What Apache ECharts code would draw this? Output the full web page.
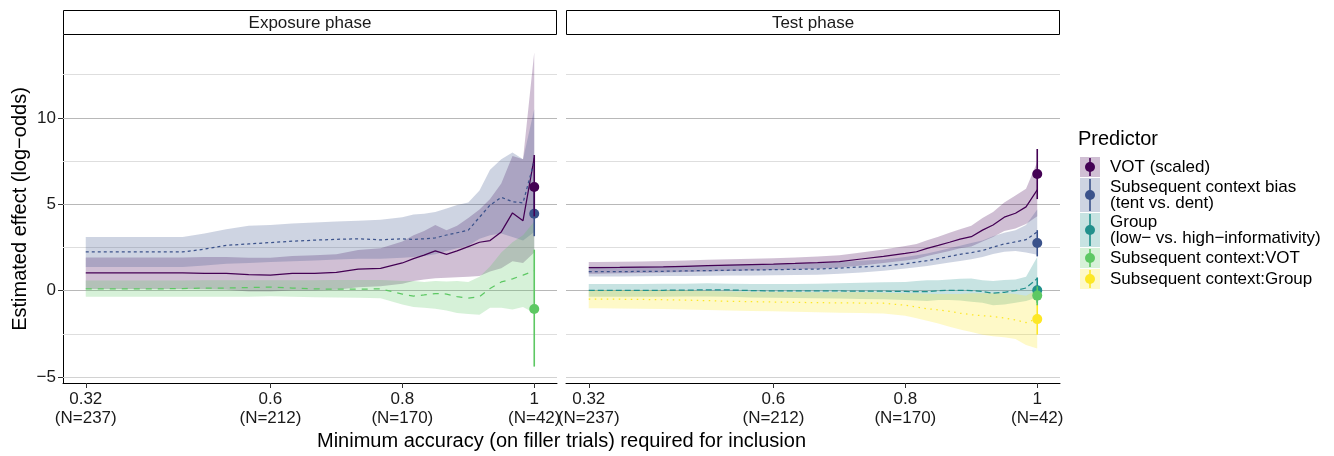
<!DOCTYPE html>
<html>
<head>
<meta charset="utf-8">
<title>Minimum accuracy sensitivity</title>
<script src="https://cdn.jsdelivr.net/npm/echarts@6/dist/echarts.min.js"></script>
<style>
  html, body { margin: 0; padding: 0; background: #fff; }
  #main { width: 1334px; height: 456px; }
</style>
</head>
<body>
<div id="main"></div>
<script>
// accuracy thresholds (x) for every curve
var acc = [0.32, 0.333, 0.367, 0.4, 0.433, 0.467, 0.5, 0.533, 0.567, 0.6, 0.633, 0.667, 0.7, 0.733,
  0.767, 0.8, 0.817, 0.833, 0.85, 0.867, 0.883, 0.9, 0.917, 0.933, 0.95, 0.967, 0.983, 1];

// tick labels
var xTicks = [0.32, 0.6, 0.8, 1];
var xTickLabels = ['0.32', '0.6', '0.8', '1'];
var xTickN = [237, 212, 170, 42];
var yTicks = [-5, 0, 5, 10];
var yMinor = [-2.5, 2.5, 7.5, 12.5];

var panelTitles = ['Exposure phase', 'Test phase'];
var predictors = ['VOT (scaled)', 'Subsequent context bias\n(tent vs. dent)',
  'Group\n(low\u2212 vs. high\u2212informativity)', 'Subsequent context:VOT', 'Subsequent context:Group'];
var colors = ['#440154', '#3B528B', '#21908C', '#5DC863', '#FDE725'];
var dashes = ['solid', [3, 3], [6, 3], [6, 6], [1.5, 4.5]];

// Exposure phase
var expVotEst = [1.03, 1.03, 1.03, 1.03, 1.03, 1.03, 1.0, 1.0, 0.92, 0.9, 1.0, 1.0, 1.05, 1.25, 1.29, 1.6, 1.85, 2.05, 2.3, 2.1, 2.3, 2.55, 2.8, 2.9, 3.4, 4.5, 4.05, 7.7];
var expVotLo = [0.1, 0.1, 0.1, 0.1, 0.1, 0.1, 0.08, 0.05, -0.05, -0.05, 0.0, 0.0, 0.05, 0.2, 0.25, 0.4, 0.55, 0.65, 0.72, 0.75, 0.78, 0.8, 0.85, 1.1, 1.3, 1.7, 1.6, 2.2];
var expVotHi = [1.92, 1.92, 1.92, 1.92, 1.92, 1.92, 1.95, 1.95, 1.9, 1.9, 2.0, 2.05, 2.1, 2.35, 2.45, 2.85, 3.2, 3.45, 3.8, 3.5, 3.75, 4.2, 4.7, 5.3, 6.2, 7.8, 7.6, 13.8];
var expBiasEst = [2.24, 2.24, 2.24, 2.24, 2.24, 2.24, 2.4, 2.62, 2.7, 2.78, 2.86, 2.92, 2.97, 3.0, 2.94, 3.0, 2.96, 3.0, 3.05, 3.22, 3.35, 3.5, 4.25, 4.95, 5.4, 5.15, 5.08, 7.5];
var expBiasLo = [1.36, 1.36, 1.36, 1.36, 1.36, 1.36, 1.45, 1.55, 1.6, 1.65, 1.7, 1.75, 1.8, 1.85, 1.85, 1.9, 1.95, 2.0, 2.1, 2.3, 2.45, 2.6, 3.0, 3.2, 3.3, 3.1, 2.9, 3.4];
var expBiasHi = [3.11, 3.11, 3.11, 3.11, 3.11, 3.11, 3.3, 3.55, 3.75, 3.8, 3.88, 3.95, 4.0, 4.05, 4.1, 4.25, 4.4, 4.45, 4.55, 4.75, 4.95, 5.1, 5.8, 7.0, 7.6, 8.0, 7.6, 10.5];
var expCtxVotEst = [0.1, 0.1, 0.1, 0.1, 0.1, 0.12, 0.15, 0.15, 0.18, 0.2, 0.15, 0.1, 0.08, 0.08, 0.1, -0.2, -0.32, -0.25, -0.17, -0.2, -0.35, -0.44, -0.35, 0.12, 0.5, 0.68, 0.9, 1.14];
var expCtxVotLo = [-0.35, -0.35, -0.35, -0.35, -0.35, -0.35, -0.35, -0.35, -0.35, -0.33, -0.35, -0.38, -0.4, -0.42, -0.45, -0.8, -0.95, -1.0, -1.05, -1.15, -1.3, -1.35, -1.4, -1.0, -1.0, -1.1, -0.95, -1.3];
var expCtxVotHi = [0.58, 0.58, 0.58, 0.58, 0.58, 0.58, 0.6, 0.6, 0.6, 0.6, 0.6, 0.6, 0.62, 0.62, 0.62, 0.55, 0.55, 0.5, 0.55, 0.52, 0.55, 0.5, 0.8, 1.4, 2.2, 2.8, 3.2, 4.0];

// Test phase
var testVotEst = [1.33, 1.33, 1.34, 1.36, 1.38, 1.41, 1.44, 1.47, 1.5, 1.53, 1.57, 1.62, 1.68, 1.83, 1.98, 2.15, 2.25, 2.45, 2.62, 2.8, 2.98, 3.12, 3.5, 3.8, 4.25, 4.48, 4.85, 5.83];
var testVotLo = [0.98, 0.98, 1.0, 1.02, 1.05, 1.08, 1.1, 1.13, 1.16, 1.19, 1.22, 1.26, 1.32, 1.45, 1.6, 1.75, 1.83, 2.0, 2.15, 2.3, 2.45, 2.55, 2.85, 3.1, 3.45, 3.6, 3.85, 4.3];
var testVotHi = [1.66, 1.66, 1.67, 1.69, 1.72, 1.75, 1.78, 1.82, 1.85, 1.88, 1.92, 1.98, 2.05, 2.2, 2.38, 2.58, 2.7, 2.92, 3.12, 3.35, 3.55, 3.75, 4.2, 4.55, 5.1, 5.5, 5.9, 7.45];
var testBiasEst = [1.1, 1.1, 1.1, 1.11, 1.12, 1.14, 1.16, 1.18, 1.2, 1.21, 1.23, 1.25, 1.3, 1.37, 1.42, 1.55, 1.65, 1.73, 1.85, 1.98, 2.1, 2.2, 2.32, 2.52, 2.7, 2.82, 2.95, 3.4];
var testBiasLo = [0.81, 0.81, 0.82, 0.83, 0.84, 0.85, 0.86, 0.87, 0.88, 0.89, 0.9, 0.92, 0.97, 1.05, 1.15, 1.28, 1.35, 1.42, 1.52, 1.63, 1.72, 1.82, 1.95, 2.12, 2.25, 2.3, 2.2, 2.08];
var testBiasHi = [1.38, 1.38, 1.39, 1.4, 1.42, 1.44, 1.46, 1.49, 1.51, 1.53, 1.56, 1.59, 1.65, 1.73, 1.8, 1.95, 2.05, 2.15, 2.3, 2.45, 2.6, 2.75, 2.9, 3.15, 3.35, 3.5, 3.8, 4.7];
var testGroupEst = [0.02, 0.02, 0.02, 0.02, 0.02, 0.03, 0.04, 0.04, 0.0, -0.02, -0.02, -0.02, -0.02, -0.03, -0.03, -0.05, -0.06, -0.06, 0.0, 0.02, 0.02, 0.0, -0.05, -0.15, -0.1, 0.0, 0.15, 0.7];
var testGroupLo = [-0.36, -0.36, -0.36, -0.36, -0.36, -0.34, -0.34, -0.36, -0.4, -0.42, -0.43, -0.45, -0.46, -0.48, -0.5, -0.55, -0.58, -0.6, -0.55, -0.55, -0.58, -0.65, -0.7, -0.85, -0.8, -0.7, -0.6, -0.4];
var testGroupHi = [0.38, 0.38, 0.38, 0.38, 0.39, 0.4, 0.42, 0.4, 0.38, 0.38, 0.38, 0.4, 0.42, 0.45, 0.48, 0.5, 0.55, 0.6, 0.6, 0.65, 0.68, 0.7, 0.6, 0.55, 0.62, 0.64, 0.8, 1.95];
var testCtxGroupEst = [-0.5, -0.5, -0.5, -0.51, -0.53, -0.55, -0.58, -0.62, -0.64, -0.66, -0.68, -0.7, -0.71, -0.72, -0.73, -0.85, -0.95, -1.05, -1.12, -1.2, -1.3, -1.4, -1.45, -1.5, -1.58, -1.7, -1.85, -1.63];
var testCtxGroupLo = [-1.02, -1.02, -1.03, -1.05, -1.07, -1.1, -1.12, -1.15, -1.18, -1.2, -1.22, -1.25, -1.28, -1.3, -1.32, -1.45, -1.6, -1.75, -1.9, -2.1, -2.25, -2.4, -2.55, -2.65, -2.7, -2.8, -3.15, -3.35];
var testCtxGroupHi = [0.04, 0.04, 0.04, 0.03, 0.02, 0.0, -0.02, -0.05, -0.06, -0.07, -0.08, -0.09, -0.1, -0.1, -0.12, -0.15, -0.15, -0.18, -0.2, -0.2, -0.2, -0.15, -0.15, -0.15, -0.15, -0.2, -0.3, 0.05];

// full-data estimates at accuracy 1: [estimate, lower, upper]
var ptX = 1;
var expPtVot = [6.0, 4.3, 7.85];
var expPtBias = [4.45, 3.15, 5.8];
var expPtCtxVot = [-1.07, -4.4, 2.37];
var testPtVot = [6.75, 5.3, 8.2];
var testPtBias = [2.76, 1.98, 3.5];
var testPtGroup = [0.02, -0.7, 0.76];
var testPtCtxVot = [-0.29, -0.85, 0.25];
var testPtCtxGroup = [-1.65, -2.55, -0.75];

var FONT = "'Liberation Sans', Arial, Helvetica, sans-serif";
var X_MIN = 0.2855, X_MAX = 1.0345, Y_MIN = -5.35, Y_MAX = 14.8;
var grids = [{left: 63, width: 494}, {left: 566, width: 494}];
var TOP = 35, HEIGHT = 348;

var panels = [
  {
    curves: [[0, expVotEst, expVotLo, expVotHi], [1, expBiasEst, expBiasLo, expBiasHi],
      [3, expCtxVotEst, expCtxVotLo, expCtxVotHi]],
    points: [[1, expPtBias], [3, expPtCtxVot], [0, expPtVot]]
  },
  {
    curves: [[0, testVotEst, testVotLo, testVotHi], [1, testBiasEst, testBiasLo, testBiasHi],
      [2, testGroupEst, testGroupLo, testGroupHi], [4, testCtxGroupEst, testCtxGroupLo, testCtxGroupHi]],
    points: [[1, testPtBias], [0, testPtVot], [2, testPtGroup], [4, testPtCtxGroup], [3, testPtCtxVot]]
  }
];

function bandSeries(g, k, lo, hi) {
  return {
    type: 'custom', xAxisIndex: g, yAxisIndex: g, z: 2, silent: true, clip: true,
    data: acc.map(function (x, i) { return [x, lo[i], hi[i]]; }),
    encode: {x: 0, y: [1, 2]},
    renderItem: function (params, api) {
      if (params.dataIndex !== 0) return null;
      var up = [], down = [];
      for (var i = 0; i < acc.length; i++) {
        up.push(api.coord([acc[i], hi[i]]));
        down.unshift(api.coord([acc[i], lo[i]]));
      }
      return {type: 'polygon', shape: {points: up.concat(down)},
        style: {fill: colors[k], opacity: 0.25}};
    }
  };
}

function lineSeries(g, k, est) {
  return {
    type: 'line', xAxisIndex: g, yAxisIndex: g, z: 3, silent: true,
    data: acc.map(function (x, i) { return [x, est[i]]; }),
    symbol: 'none',
    lineStyle: {color: colors[k], width: 1.25, type: dashes[k]}
  };
}

function pointSeries(g, k, pt) {
  return {
    type: 'custom', xAxisIndex: g, yAxisIndex: g, z: 4, silent: true,
    data: [[ptX, pt[0], pt[1], pt[2]]],
    encode: {x: 0, y: [1, 2, 3]},
    renderItem: function (params, api) {
      var mid = api.coord([api.value(0), api.value(1)]);
      var bot = api.coord([api.value(0), api.value(2)]);
      var top = api.coord([api.value(0), api.value(3)]);
      return {type: 'group', children: [
        {type: 'line', shape: {x1: top[0], y1: top[1], x2: bot[0], y2: bot[1]},
          style: {stroke: colors[k], lineWidth: 1.6}},
        {type: 'circle', shape: {cx: mid[0], cy: mid[1], r: 5}, style: {fill: colors[k]}}
      ]};
    }
  };
}

function gridLineSeries(g) {
  var lines = yTicks.map(function (v) {
    // the lowest major line is drawn lighter in the source
    return {yAxis: v, lineStyle: {color: v === yTicks[0] ? '#d2d2d2' : '#b8b8b8', width: 1.2, type: 'solid'}};
  }).concat(yMinor.map(function (v) {
    return {yAxis: v, lineStyle: {color: '#dedede', width: 1, type: 'solid'}};
  }));
  return {
    type: 'line', xAxisIndex: g, yAxisIndex: g, z: 1, silent: true, data: [],
    markLine: {silent: true, symbol: 'none', animation: false, label: {show: false}, z: 1, data: lines}
  };
}

var series = [];
panels.forEach(function (p, g) {
  series.push(gridLineSeries(g));
  p.curves.forEach(function (c) { series.push(bandSeries(g, c[0], c[2], c[3])); });
  p.curves.forEach(function (c) { series.push(lineSeries(g, c[0], c[1])); });
  p.points.forEach(function (c) { series.push(pointSeries(g, c[0], c[1])); });
});

var xAxes = grids.map(function (gr, g) {
  return {
    type: 'value', gridIndex: g, min: X_MIN, max: X_MAX,
    axisLine: {show: true, onZero: false, lineStyle: {color: '#000', width: 1}},
    axisTick: {show: true, customValues: xTicks, length: 5, lineStyle: {color: '#333'}},
    axisLabel: {
      customValues: xTicks, margin: 7, fontSize: 17, lineHeight: 19, color: '#1a1a1a', fontFamily: FONT,
      formatter: function (v) {
        for (var i = 0; i < xTicks.length; i++) {
          if (Math.abs(xTicks[i] - v) < 1e-6) return xTickLabels[i] + '\n(N=' + xTickN[i] + ')';
        }
        return '';
      }
    },
    splitLine: {show: false}
  };
});

var yAxes = [
  {
    type: 'value', gridIndex: 0, min: Y_MIN, max: Y_MAX,
    name: 'Estimated effect (log\u2212odds)', nameLocation: 'middle', nameGap: 33,
    nameTextStyle: {fontSize: 20, color: '#000', fontFamily: FONT},
    axisLine: {show: true, onZero: false, lineStyle: {color: '#000', width: 1}},
    axisTick: {show: true, customValues: yTicks, length: 5, lineStyle: {color: '#333'}},
    axisLabel: {
      customValues: yTicks, margin: 7, fontSize: 17, color: '#1a1a1a', fontFamily: FONT,
      formatter: function (v) { return String(v).replace('-', '\u2212'); }
    },
    splitLine: {show: false}
  },
  {type: 'value', gridIndex: 1, min: Y_MIN, max: Y_MAX, show: false, splitLine: {show: false}}
];

// strips, axis title and legend
var graphics = [];
grids.forEach(function (gr, g) {
  graphics.push({type: 'rect', shape: {x: gr.left + 0.5, y: 10.5, width: gr.width - 1, height: 24},
    style: {fill: '#fff', stroke: '#000', lineWidth: 1}, z: 10});
  graphics.push({type: 'text', x: gr.left + gr.width / 2, y: 23, z: 11,
    style: {text: panelTitles[g], fontSize: 17, fontFamily: FONT, fill: '#1a1a1a',
      align: 'center', verticalAlign: 'middle'}});
});
graphics.push({type: 'text', x: 561.5, y: 441,
  style: {text: 'Minimum accuracy (on filler trials) required for inclusion', fontSize: 20,
    fontFamily: FONT, fill: '#000', align: 'center', verticalAlign: 'middle'}});
graphics.push({type: 'text', x: 1078, y: 139,
  style: {text: 'Predictor', fontSize: 20, fontFamily: FONT, fill: '#000', verticalAlign: 'middle'}});

var rowY = 157;
predictors.forEach(function (name, k) {
  var nLines = name.split('\n').length;
  var h = nLines > 1 ? 34 : 20;
  var cy = rowY + h / 2;
  graphics.push({type: 'rect', shape: {x: 1080, y: rowY, width: 20, height: h},
    style: {fill: colors[k], opacity: 0.25}});
  graphics.push({type: 'line', shape: {x1: 1090, y1: rowY + 1, x2: 1090, y2: rowY + h - 1},
    style: {stroke: colors[k], lineWidth: 1.6}});
  graphics.push({type: 'circle', shape: {cx: 1090, cy: cy, r: 5}, style: {fill: colors[k]}});
  graphics.push({type: 'text', x: 1110, y: cy,
    style: {text: name, fontSize: 17, lineHeight: 16, fontFamily: FONT, fill: '#000',
      verticalAlign: 'middle'}});
  rowY += h + 1;
});

var chart = echarts.init(document.getElementById('main'), null, {renderer: 'canvas'});
chart.setOption({
  backgroundColor: '#fff',
  animation: false,
  grid: grids.map(function (gr) {
    return {left: gr.left, width: gr.width, top: TOP, height: HEIGHT, containLabel: false, outerBoundsMode: 'none'};
  }),
  xAxis: xAxes,
  yAxis: yAxes,
  series: series,
  graphic: graphics
});
</script>
</body>
</html>
